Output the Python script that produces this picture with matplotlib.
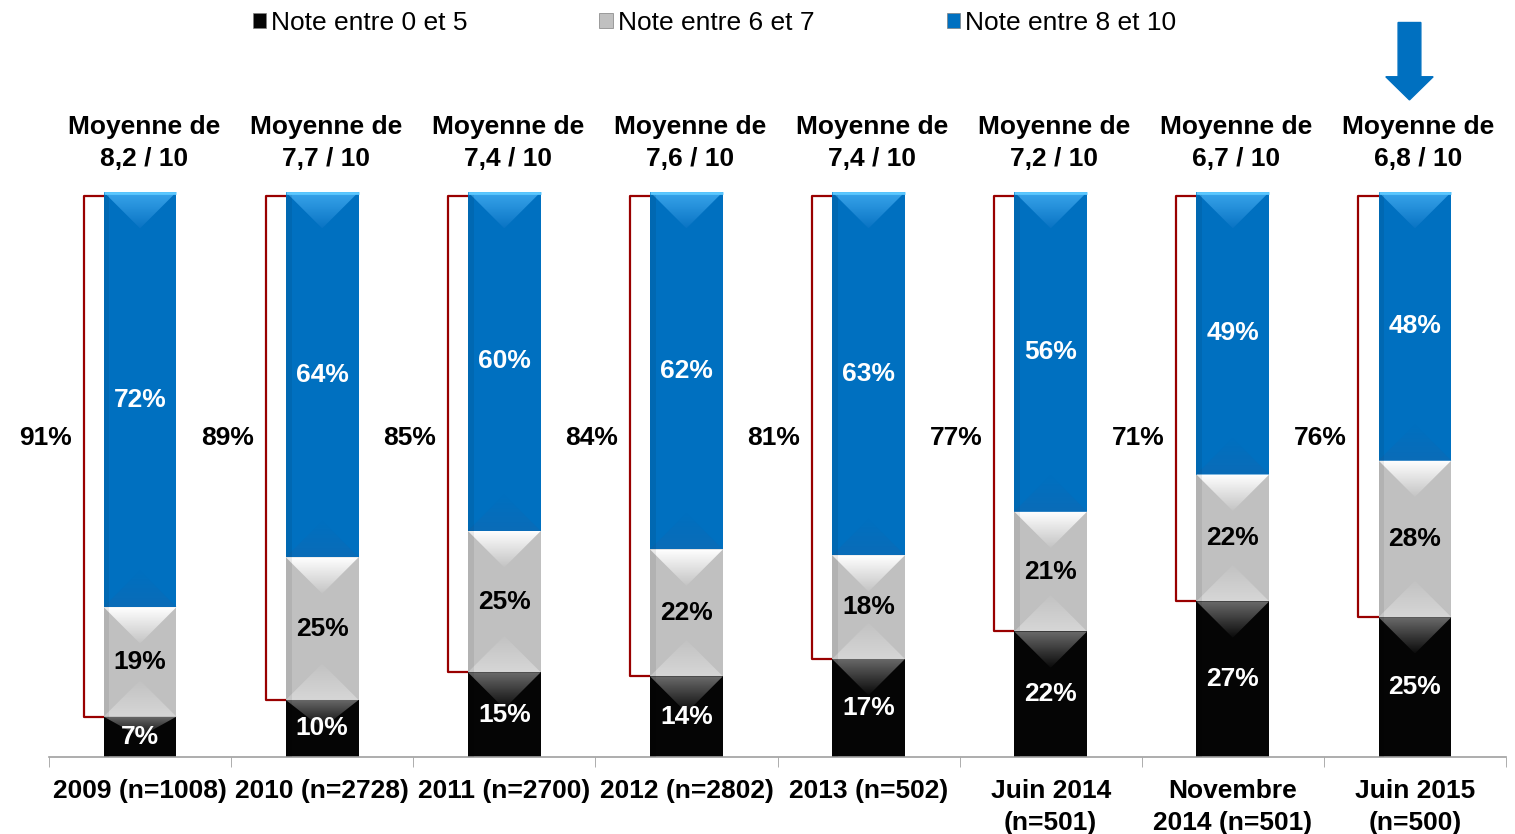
import numpy as np
import matplotlib
matplotlib.use('Agg')
import matplotlib.pyplot as plt
import matplotlib.colors as mcolors
from matplotlib.patches import Polygon, FancyArrow, Patch

plt.rcParams['font.family'] = ['Liberation Sans', 'DejaVu Sans']

# data
categories = ['2009 (n=1008)', '2010 (n=2728)', '2011 (n=2700)', '2012 (n=2802)',
              '2013 (n=502)', 'Juin 2014\n(n=501)', 'Novembre\n2014 (n=501)',
              'Juin 2015\n(n=500)']
note_0_5 = [7, 10, 15, 14, 17, 22, 27, 25]
note_6_7 = [19, 25, 25, 22, 18, 21, 22, 28]
note_8_10 = [72, 64, 60, 62, 63, 56, 49, 48]
total_6_10 = [91, 89, 85, 84, 81, 77, 71, 76]
moyennes = ['8,2', '7,7', '7,4', '7,6', '7,4', '7,2', '6,7', '6,8']
series_names = ['Note entre 0 et 5', 'Note entre 6 et 7', 'Note entre 8 et 10']

BAR_W = 0.4
FS = 19
BLUE = '#0070C0'
GREY = '#C0C0C0'
RED = '#990000'

W_PX, H_PX = 1515, 834
AX_RECT = [49 / W_PX, 77 / H_PX, 1457 / W_PX, 565 / H_PX]

fig = plt.figure(figsize=(W_PX / 100, H_PX / 100), dpi=100)
ax = fig.add_axes(AX_RECT)

n = len(categories)
x = np.arange(n)
raw = np.array([note_0_5, note_6_7, note_8_10], dtype=float)
heights = raw / raw.sum(axis=0) * 100   # bars fill the full 100 %

# how many y data units equal one x data unit on screen
px_x = AX_RECT[2] * W_PX / n
px_y = AX_RECT[3] * H_PX / 100
y_per_x = px_x / px_y

# colours: base, bevel top (start, end), bevel bottom (start, end), label colour
styles = [
    ('#050505', ('#6a6a6a', '#0a0a0a'), ('#050505', '#050505'), 'white'),
    (GREY, ('#ffffff', '#c4c4c4'), ('#d6d6d6', '#c2c2c2'), 'black'),
    (BLUE, ('#3aa6ec', '#0a74c4'), ('#0a6cb8', '#0070c0'), 'white'),
]


def grad_patch(pts, c0, c1, top):
    # gradient filled triangle, c0 at the base edge, c1 at the apex
    poly = Polygon(pts, closed=True, facecolor='none', edgecolor='none')
    ax.add_patch(poly)
    xs = [p[0] for p in pts]
    ys = [p[1] for p in pts]
    cmap = mcolors.LinearSegmentedColormap.from_list('g', [c0, c1])
    g = np.linspace(0, 1, 64).reshape(-1, 1)
    if not top:
        g = g[::-1]
    im = ax.imshow(g, cmap=cmap, extent=(min(xs), max(xs), min(ys), max(ys)),
                   origin='upper', aspect='auto', zorder=3, interpolation='bilinear')
    im.set_clip_path(poly)


bottom = np.zeros(n)
for k in range(3):
    base, topc, botc, tcol = styles[k]
    bars = ax.bar(x, heights[k], BAR_W, bottom=bottom, color=base, zorder=2,
                  edgecolor='none', label=series_names[k])
    for i, b in enumerate(bars):
        x0 = b.get_x()
        x1 = x0 + b.get_width()
        xc = (x0 + x1) / 2
        y0 = b.get_y()
        y1 = y0 + b.get_height()
        d = min(BAR_W / 2 * y_per_x, (y1 - y0) / 2)
        grad_patch([(x0, y1), (x1, y1), (xc, y1 - d)], topc[0], topc[1], True)
        if k > 0:
            grad_patch([(x0, y0), (x1, y0), (xc, y0 + d)], botc[0], botc[1], False)
        # darker left side
        shade = Polygon([(x0, y0), (x0 + BAR_W * 0.08, y0), (x0 + BAR_W * 0.08, y1), (x0, y1)],
                        closed=True, facecolor='black', alpha=0.07, edgecolor='none', zorder=3)
        ax.add_patch(shade)
        if k == 2:
            ax.plot([x0, x1], [y1 - 0.2, y1 - 0.2], color='#5cc8ff', lw=2, zorder=4,
                    solid_capstyle='butt')
        ax.text(xc, (y0 + y1) / 2, f'{int(raw[k, i])}%', ha='center', va='center',
                fontsize=FS, fontweight='bold', color=tcol, zorder=6)
    bottom += heights[k]

# brackets for the 6-10 share
for i in range(n):
    xl = x[i] - BAR_W / 2
    xb = xl - 0.11
    yb = heights[0, i]
    ax.plot([xl, xb, xb, xl], [99.3, 99.3, yb, yb], color=RED, lw=1.6, zorder=1,
            clip_on=False)
    ax.text(x[i] - 0.52, 56.5, f'{total_6_10[i]}%', ha='center', va='center',
            fontsize=FS, fontweight='bold', color='black')
    ax.text(x[i] + 0.02, 108.7, f'Moyenne de\n{moyennes[i]} / 10', ha='center',
            va='center', fontsize=FS, fontweight='bold', linespacing=1.4, clip_on=False)

# arrow over the last bar
ax.add_patch(FancyArrow(x[-1] - 0.03, 130.0, 0, -13.7, width=0.125, head_width=0.26,
                        head_length=4.1, length_includes_head=True, color=BLUE,
                        clip_on=False, zorder=5))

ax.set_xlim(-0.5, n - 0.5)
ax.set_ylim(0, 100)
ax.set_xticks(x)
ax.set_xticklabels(categories, fontsize=FS, fontweight='bold', linespacing=1.4)
ax.set_xticks(np.arange(-0.5, n, 1.0), minor=True)
ax.tick_params(axis='x', which='major', length=0, pad=16)
ax.tick_params(axis='x', which='minor', length=7, color='#a0a0a0', direction='out')
ax.set_yticks([])
for s in ['left', 'top', 'right']:
    ax.spines[s].set_visible(False)
ax.spines['bottom'].set_color('#a0a0a0')
ax.spines['bottom'].set_linewidth(1.2)

handles = [Patch(facecolor=styles[k][0], edgecolor='#808080', lw=0.5) for k in range(3)]
fig.legend(handles, series_names, loc='upper center', bbox_to_anchor=(0.4715, 1.0),
           ncol=3, frameon=False, fontsize=FS, handlelength=0.5, handleheight=0.5,
           handletextpad=0.2, columnspacing=5.0, borderaxespad=0.0)

fig.savefig('out.png', dpi=100)
